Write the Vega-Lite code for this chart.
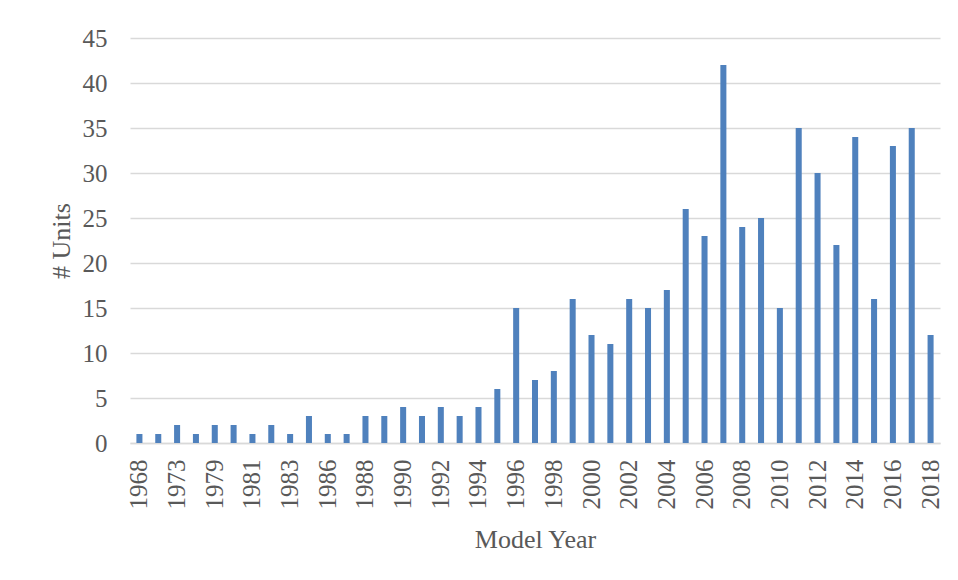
{
  "$schema": "https://vega.github.io/schema/vega-lite/v6.json",
  "width": 810,
  "height": 405,
  "autosize": {"type": "none"},
  "padding": {"left": 130, "top": 38, "right": 18, "bottom": 137},
  "background": "white",
  "config": {
    "view": {"stroke": null},
    "font": "Liberation Serif"
  },
  "data": {
    "values": [
      {"year": "1968", "units": 1},
      {"year": "1972", "units": 1},
      {"year": "1973", "units": 2},
      {"year": "1977", "units": 1},
      {"year": "1979", "units": 2},
      {"year": "1980", "units": 2},
      {"year": "1981", "units": 1},
      {"year": "1982", "units": 2},
      {"year": "1983", "units": 1},
      {"year": "1985", "units": 3},
      {"year": "1986", "units": 1},
      {"year": "1987", "units": 1},
      {"year": "1988", "units": 3},
      {"year": "1989", "units": 3},
      {"year": "1990", "units": 4},
      {"year": "1991", "units": 3},
      {"year": "1992", "units": 4},
      {"year": "1993", "units": 3},
      {"year": "1994", "units": 4},
      {"year": "1995", "units": 6},
      {"year": "1996", "units": 15},
      {"year": "1997", "units": 7},
      {"year": "1998", "units": 8},
      {"year": "1999", "units": 16},
      {"year": "2000", "units": 12},
      {"year": "2001", "units": 11},
      {"year": "2002", "units": 16},
      {"year": "2003", "units": 15},
      {"year": "2004", "units": 17},
      {"year": "2005", "units": 26},
      {"year": "2006", "units": 23},
      {"year": "2007", "units": 42},
      {"year": "2008", "units": 24},
      {"year": "2009", "units": 25},
      {"year": "2010", "units": 15},
      {"year": "2011", "units": 35},
      {"year": "2012", "units": 30},
      {"year": "2013", "units": 22},
      {"year": "2014", "units": 34},
      {"year": "2015", "units": 16},
      {"year": "2016", "units": 33},
      {"year": "2017", "units": 35},
      {"year": "2018", "units": 12}
    ]
  },
  "mark": {"type": "bar", "color": "#4f81bd"},
  "encoding": {
    "x": {
      "field": "year",
      "type": "ordinal",
      "sort": null,
      "scale": {"paddingInner": 0.68, "paddingOuter": 0.34},
      "axis": {
        "title": "Model Year",
        "values": ["1968","1973","1979","1981","1983","1986","1988","1990","1992","1994","1996","1998","2000","2002","2004","2006","2008","2010","2012","2014","2016","2018"],
        "labelAngle": -90,
        "labelAlign": "right",
        "labelBaseline": "middle",
        "labelPadding": 16,
        "labelFontSize": 25,
        "labelColor": "#595959",
        "labelOverlap": false,
        "ticks": false,
        "domain": true,
        "domainColor": "#d9d9d9",
        "domainWidth": 1.5,
        "titleFontSize": 26,
        "titleFontWeight": "normal",
        "titleColor": "#595959",
        "titleY": 104,
        "titleBaseline": "alphabetic"
      }
    },
    "y": {
      "field": "units",
      "type": "quantitative",
      "scale": {"domain": [0, 45], "nice": false},
      "axis": {
        "title": "# Units",
        "values": [0, 5, 10, 15, 20, 25, 30, 35, 40, 45],
        "domain": false,
        "ticks": false,
        "gridColor": "#d9d9d9",
        "gridWidth": 1.5,
        "labelPadding": 23,
        "labelFontSize": 25,
        "labelColor": "#595959",
        "titleFontSize": 26,
        "titleFontWeight": "normal",
        "titleColor": "#595959",
        "titleX": -69,
        "titleBaseline": "middle"
      }
    }
  }
}
